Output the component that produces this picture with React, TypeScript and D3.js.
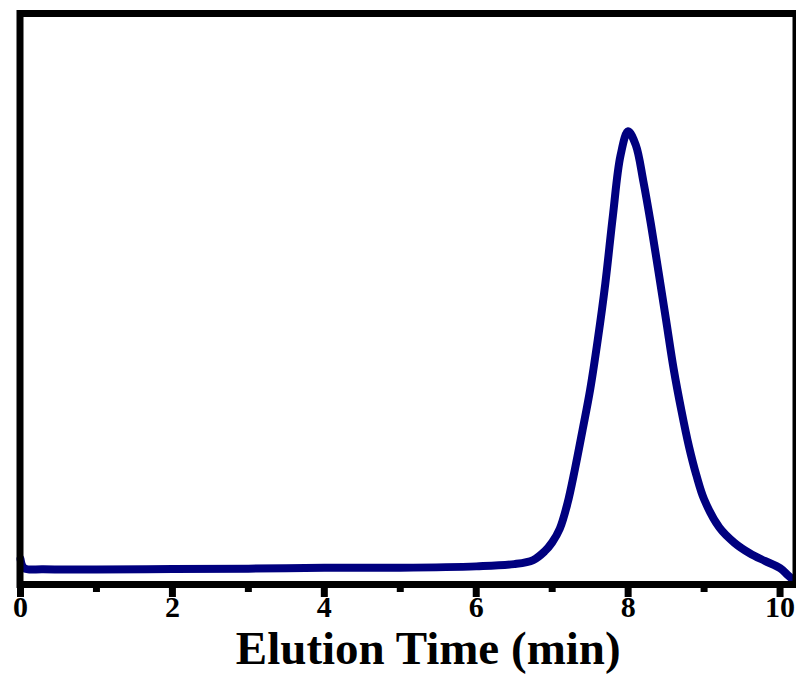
import React, { useRef, useEffect } from 'react';
import * as d3 from 'd3';

// elution time (min) and detector signal (arbitrary units, peak ~100)
const times = [0, 0.05, 0.3, 1, 2, 3, 4, 5, 6, 6.5, 6.75, 6.9, 7.0, 7.1, 7.2, 7.3, 7.4, 7.5, 7.6, 7.7, 7.8, 7.9, 8.0, 8.1, 8.2, 8.3, 8.4, 8.5, 8.6, 8.7, 8.8, 8.9, 9.0, 9.2, 9.4, 9.6, 9.8, 10.0, 10.1, 10.2];
const signal = [5.6, 3.6, 3.35, 3.3, 3.4, 3.5, 3.7, 3.7, 4.0, 4.5, 5.4, 7.3, 9.3, 12.3, 17.8, 25.5, 34.1, 43.0, 54.0, 66.5, 81.5, 94.7, 100, 97.0, 89.0, 79.5, 69.0, 58.3, 47.5, 38.5, 30.5, 24.0, 18.8, 12.6, 9.2, 6.9, 5.2, 3.6, 2.1, 0.6];
const majorTicks = [0, 2, 4, 6, 8, 10];
const minorTicks = [1, 3, 5, 7, 9];
const xLabel = 'Elution Time (min)';

const width = 804;
const height = 683;

const Chart = () => {
    const svgRef = useRef<SVGSVGElement>(null);

    useEffect(() => {
        const svg = d3.select(svgRef.current);
        svg.selectAll('*').remove();

        const left = 20.5;
        const right = 796;
        const top = 13.5;
        const bottom = 584.5;

        const xScale = d3.scaleLinear().domain([0, 10.21]).range([left, right]);
        const yScale = d3.scaleLinear().domain([0, 126]).range([bottom, top]);

        const font = '"Times New Roman", "Liberation Serif", serif';

        // ticks
        const ax = svg.append('g').attr('transform', `translate(0, ${bottom})`);
        ax.selectAll('line.major')
            .data(majorTicks)
            .join('line')
            .attr('x1', d => xScale(d))
            .attr('x2', d => xScale(d))
            .attr('y1', 0)
            .attr('y2', 12.5)
            .attr('stroke', '#000')
            .attr('stroke-width', 7);
        ax.selectAll('line.minor')
            .data(minorTicks)
            .join('line')
            .attr('x1', d => xScale(d))
            .attr('x2', d => xScale(d))
            .attr('y1', 0)
            .attr('y2', 7.5)
            .attr('stroke', '#000')
            .attr('stroke-width', 7);
        ax.selectAll('text')
            .data(majorTicks)
            .join('text')
            .attr('x', d => xScale(d))
            .attr('y', 32)
            .attr('text-anchor', 'middle')
            .attr('font-family', font)
            .attr('font-weight', 700)
            .attr('font-size', 30)
            .text(d => d);

        svg.append('text')
            .attr('x', (xScale(0) + right) / 2 + 20)
            .attr('y', 664)
            .attr('text-anchor', 'middle')
            .attr('font-family', font)
            .attr('font-weight', 700)
            .attr('font-size', 47)
            .text(xLabel);

        // curve
        const line = d3.line<number>()
            .x((d, i) => xScale(times[i]))
            .y(d => yScale(d))
            .curve(d3.curveCatmullRom.alpha(0.5));

        svg.append('path')
            .attr('d', line(signal))
            .attr('fill', 'none')
            .attr('stroke', '#00007f')
            .attr('stroke-width', 8)
            .attr('stroke-linejoin', 'round')
            .attr('stroke-linecap', 'round');

        // frame
        svg.append('rect')
            .attr('x', left - 0.5)
            .attr('y', top)
            .attr('width', right - left + 0.5)
            .attr('height', bottom - top)
            .attr('fill', 'none')
            .attr('stroke', '#000')
            .attr('stroke-width', 7);
    }, []);

    return <svg ref={svgRef} width={width} height={height} style={{ display: 'block' }} />;
};

export default function App() {
    return (
        <div style={{ margin: -8 }}>
            <Chart />
        </div>
    );
}
